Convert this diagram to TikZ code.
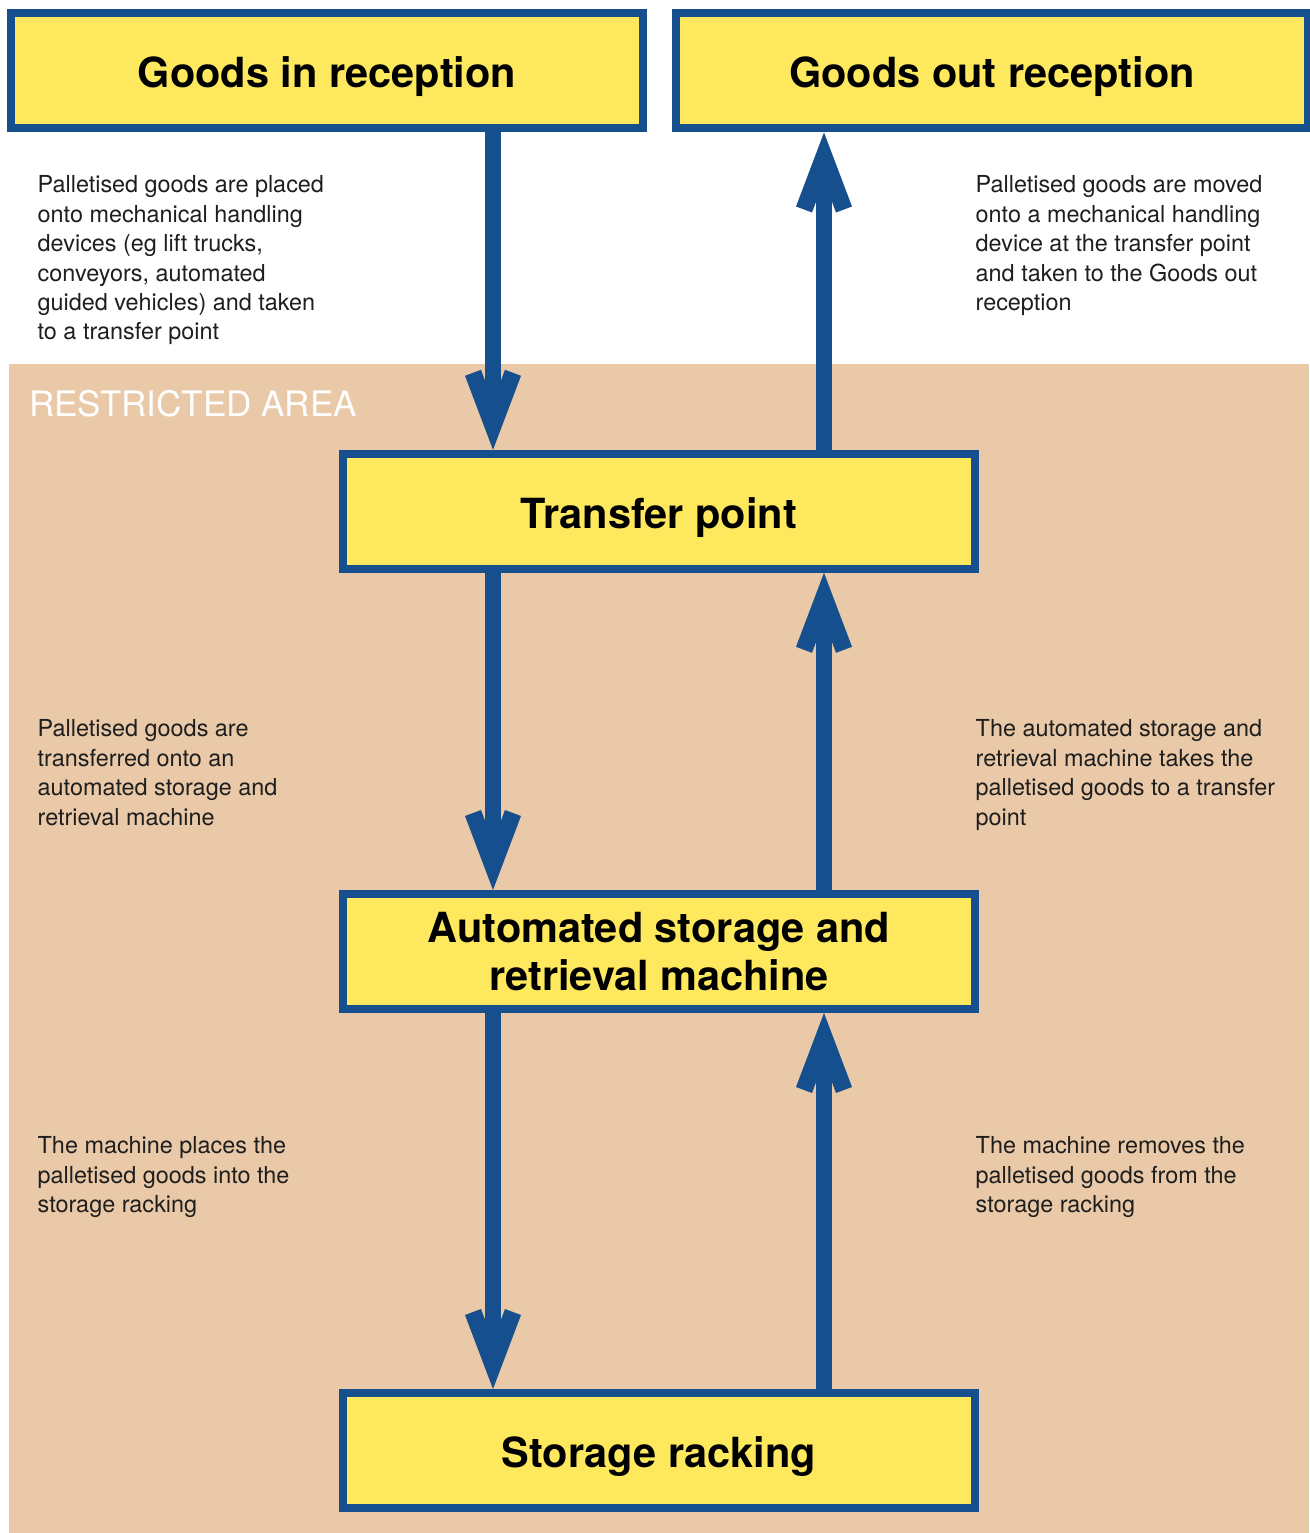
\documentclass[tikz,border=0pt]{standalone}
\usepackage{fontspec}
\setmainfont{TeX Gyre Heros}
\definecolor{blueline}{RGB}{22,79,142}
\definecolor{yel}{RGB}{254,233,94}
\definecolor{tanbg}{RGB}{233,201,168}
\definecolor{txt}{RGB}{30,30,30}
\begin{document}
\begin{tikzpicture}[x=1pt,y=-1pt,
  heading/.style={font=\fontsize{41.5}{48}\selectfont\bfseries},
  box/.style={draw=blueline, line width=8pt, fill=yel, minimum width=632pt,
    minimum height=115pt, inner sep=0pt, align=center, heading, text=black},
  onebox/.style={box, text height=34pt, text depth=0pt},
  bodytext/.style={anchor=north west, inner sep=0pt, align=left, text=txt,
    font=\fontsize{23.4}{29.4}\selectfont},
  shaft/.style={draw=blueline, line width=16pt, line cap=butt, shorten >=40pt},
  headdown/.pic={\fill[blueline] (0,0) -- (-28,-74) -- (-12,-80) -- (0,-48) -- (12,-80) -- (28,-74) -- cycle;},
  headup/.pic={\fill[blueline] (0,0) -- (-28,74) -- (-12,80) -- (0,48) -- (12,80) -- (28,74) -- cycle;}]
\useasboundingbox (0,0) rectangle (1309,1533);
\fill[white] (0,0) rectangle (1309,1533);
\fill[tanbg] (9,364) rectangle (1309,1533);
\node[anchor=base west, inner sep=0pt, text=white, font=\fontsize{35}{40}\selectfont] (ra) at (29,416) {RESTRICTED AREA};

\node[onebox] (gin) at (327,71) {Goods in reception};
\node[onebox] (gout) at (992,71) {Goods out reception};
\node[onebox] (tp) at (659,511.3) {Transfer point};
\node[box] (asrm) at (659,951.5) {Automated storage and\\retrieval machine};
\node[onebox] (sr) at (659,1450.5) {Storage racking};

\coordinate (xl) at (493,0);
\coordinate (xr) at (824,0);

\draw[shaft] (gin.south -| xl) -- (tp.north -| xl);
\pic at (tp.north -| xl) {headdown};
\draw[shaft] (tp.north -| xr) -- (gout.south -| xr);
\pic at (gout.south -| xr) {headup};
\draw[shaft] (tp.south -| xl) -- (asrm.north -| xl);
\pic at (asrm.north -| xl) {headdown};
\draw[shaft] (asrm.north -| xr) -- (tp.south -| xr);
\pic at (tp.south -| xr) {headup};
\draw[shaft] (asrm.south -| xl) -- (sr.north -| xl);
\pic at (sr.north -| xl) {headdown};
\draw[shaft] (sr.north -| xr) -- (asrm.south -| xr);
\pic at (asrm.south -| xr) {headup};

\node[bodytext] (t1) at (37.5,172.1) {\strut Palletised goods are placed\\onto mechanical handling\\devices (eg lift trucks,\\conveyors, automated\\guided vehicles) and taken\\to a transfer point};
\node[bodytext] (t2) at (975.5,172.1) {\strut Palletised goods are moved\\onto a mechanical handling\\device at the transfer point\\and taken to the Goods out\\reception};
\node[bodytext] (t3) at (37.5,716.1) {\strut Palletised goods are\\transferred onto an\\automated storage and\\retrieval machine};
\node[bodytext] (t4) at (975.5,716.1) {\strut The automated storage and\\retrieval machine takes the\\palletised goods to a transfer\\point};
\node[bodytext] (t5) at (37.5,1133.1) {\strut The machine places the\\palletised goods into the\\storage racking};
\node[bodytext] (t6) at (975.5,1133.1) {\strut The machine removes the\\palletised goods from the\\storage racking};
\end{tikzpicture}
\end{document}
